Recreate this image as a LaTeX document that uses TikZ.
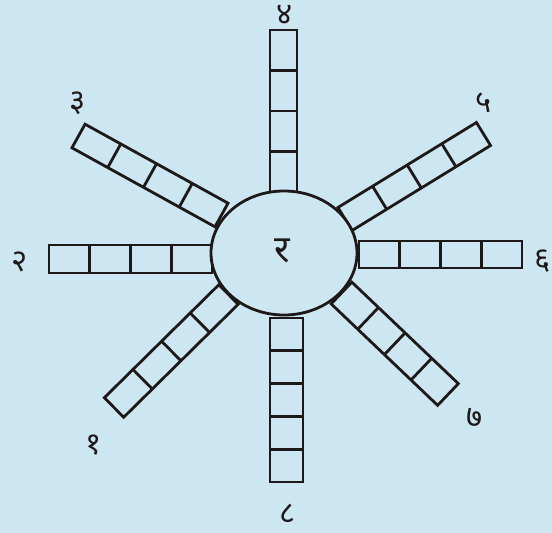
\documentclass[tikz,border=0pt]{standalone}
\usepackage{fontspec}
\newfontfamily\deva[Script=Devanagari]{Noto Sans}
\definecolor{bgblue}{RGB}{205,231,242}
\definecolor{inkc}{RGB}{30,25,25}
\tikzset{
  barline/.style={draw=inkc, line width=2.8pt, line join=miter},
  digit/.style={font=\deva\fontsize{31}{33}\selectfont, text=inkc, inner sep=0pt},
  hub/.style={ellipse, draw=inkc, fill=bgblue, line width=2.8pt, minimum width=146pt, minimum height=124pt, inner sep=0pt}
}
\usetikzlibrary{shapes.geometric}
% inner-mid (x1,y1), outer-mid (x2,y2) in pixels (y down), width, cells
\newcommand\cellbar[6]{%
  \pgfmathsetmacro\cbang{atan2(-(#4)+(#2),(#3)-(#1))}%
  \pgfmathsetmacro\cblen{veclen((#3)-(#1),(#4)-(#2))}%
  \pgfmathtruncatemacro\cbnm{#6-1}%
  \begin{scope}[shift={(#1,-#2)},rotate=\cbang]
    \draw[barline] (0,-#5/2) rectangle (\cblen,#5/2);
    \foreach \k in {1,...,\cbnm} {\draw[barline] ({\k*\cblen/#6},-#5/2) -- ++(0,#5);}
  \end{scope}}
\begin{document}
\begin{tikzpicture}[x=1pt,y=1pt]
\useasboundingbox (0,0) rectangle (552,-533);
\fill[bgblue] (0,0) rectangle (552,-533);
% bars
\cellbar{283.5}{192}{283.5}{30}{27}{4}
\cellbar{286.5}{318}{286.5}{482}{33}{5}
\cellbar{212}{259}{49}{259}{28}{4}
\cellbar{359}{254.5}{522}{254.5}{27}{4}
\cellbar{221.5}{215}{78.5}{136}{27}{4}
\cellbar{345}{219}{483.5}{134}{27}{4}
\cellbar{228.5}{294.5}{114}{407.5}{27.5}{4}
\cellbar{341.5}{293}{448}{394.5}{30}{4}
% hub
\node[hub] (hub) at (284,-253) {};
\node[font=\deva\fontsize{38}{40}\selectfont, text=inkc, inner sep=0pt] (ra) at (282,-251) {र};
% labels
\node[digit] (d4) at (285,-15) {४};
\node[digit] (d3) at (78,-103) {३};
\node[digit] (d5) at (484,-103) {५};
\node[digit] (d2) at (20,-262) {२};
\node[digit] (d6) at (543,-261) {६};
\node[digit] (d1) at (94,-445) {१};
\node[digit] (d7) at (475,-418) {७};
\node[digit] (d8) at (288,-514) {८};
\end{tikzpicture}
\end{document}
